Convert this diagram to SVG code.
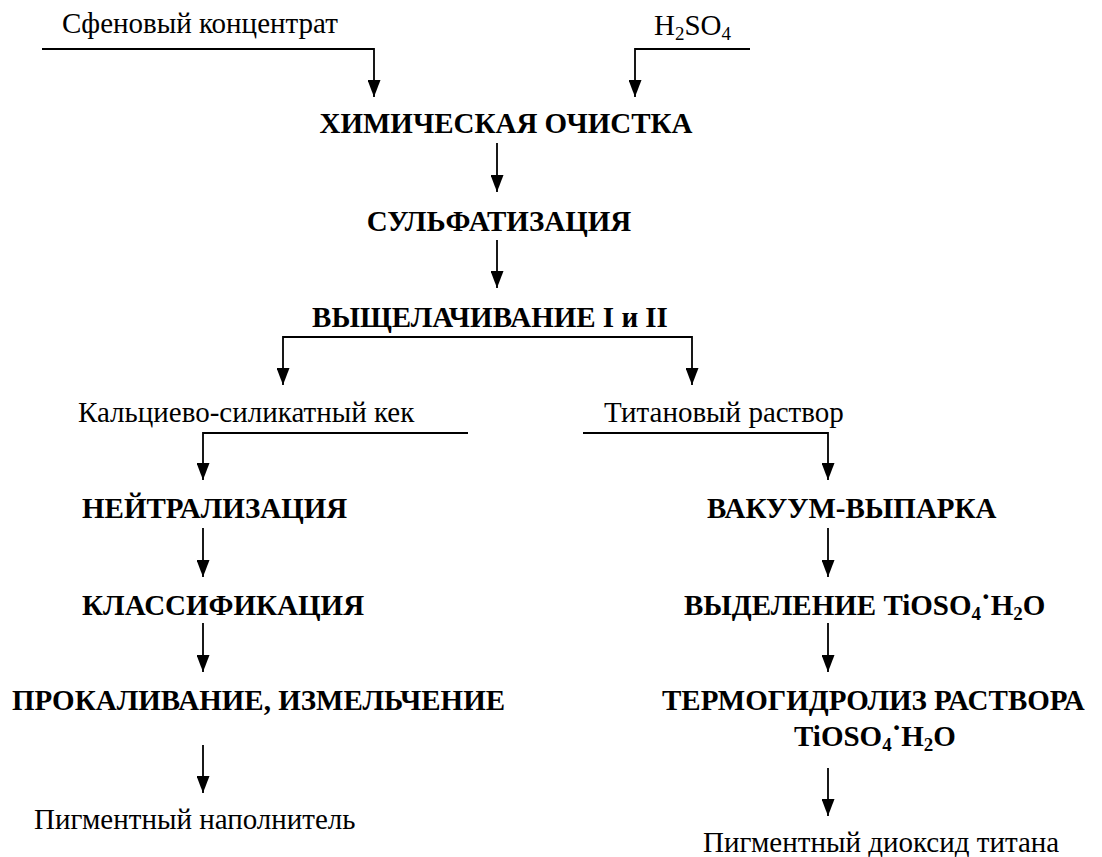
<svg xmlns="http://www.w3.org/2000/svg" width="1102" height="857" viewBox="0 0 1102 857">
<style>
.t{font-family:"Liberation Serif","Times New Roman",serif;font-size:29px;fill:#000}
.b{font-family:"Liberation Serif","Times New Roman",serif;font-size:29px;font-weight:bold;fill:#000}
.c{fill:none;stroke:#000;stroke-width:1.8}
.s{font-size:19px}
</style>
<defs>
<marker id="ah" viewBox="0 0 17 13" refX="17" refY="6.5" markerWidth="17" markerHeight="13" markerUnits="userSpaceOnUse" orient="auto">
<path d="M0,0 L17,6.5 L0,13 z" fill="#000"/>
</marker>
</defs>
<rect width="1102" height="857" fill="#fff"/>
<g id="connectors">
<path class="c" d="M42,49 H374 V97" marker-end="url(#ah)"/>
<path class="c" d="M750,49 H635 V97" marker-end="url(#ah)"/>
<path class="c" d="M497,143 V192" marker-end="url(#ah)"/>
<path class="c" d="M497,240 V288" marker-end="url(#ah)"/>
<path class="c" d="M490,337 H283 V385" marker-end="url(#ah)"/>
<path class="c" d="M490,337 H692 V385" marker-end="url(#ah)"/>
<path class="c" d="M468,433 H203 V480" marker-end="url(#ah)"/>
<path class="c" d="M583,433 H828 V480" marker-end="url(#ah)"/>
<path class="c" d="M203,528 V577" marker-end="url(#ah)"/>
<path class="c" d="M203,623 V672" marker-end="url(#ah)"/>
<path class="c" d="M203,745 V793" marker-end="url(#ah)"/>
<path class="c" d="M828,528 V577" marker-end="url(#ah)"/>
<path class="c" d="M828,623 V672" marker-end="url(#ah)"/>
<path class="c" d="M828,768 V816" marker-end="url(#ah)"/>
</g>
<g id="in-sphene"><text class="t" x="62" y="33">Сфеновый концентрат</text></g>
<g id="in-acid"><text class="t" x="654" y="35">H<tspan class="s" dy="5">2</tspan><tspan dy="-5">SO</tspan><tspan class="s" dy="5">4</tspan></text></g>
<g id="n-chem"><text class="b" x="506" y="133" text-anchor="middle">ХИМИЧЕСКАЯ ОЧИСТКА</text></g>
<g id="n-sulf"><text class="b" x="499" y="231" text-anchor="middle">СУЛЬФАТИЗАЦИЯ</text></g>
<g id="n-leach"><text class="b" x="490" y="327" text-anchor="middle">ВЫЩЕЛАЧИВАНИЕ I и II</text></g>
<g id="p-cake"><text class="t" x="78" y="422">Кальциево-силикатный кек</text></g>
<g id="p-tisol"><text class="t" x="604" y="422">Титановый раствор</text></g>
<g id="n-neut"><text class="b" x="82" y="518">НЕЙТРАЛИЗАЦИЯ</text></g>
<g id="n-class"><text class="b" x="82" y="615">КЛАССИФИКАЦИЯ</text></g>
<g id="n-calc"><text class="b" x="12" y="710">ПРОКАЛИВАНИЕ, ИЗМЕЛЬЧЕНИЕ</text></g>
<g id="p-filler"><text class="t" x="34" y="829">Пигментный наполнитель</text></g>
<g id="n-vac"><text class="b" x="707" y="518">ВАКУУМ-ВЫПАРКА</text></g>
<g id="n-sep"><text class="b" x="684" y="615">ВЫДЕЛЕНИЕ TiOSO<tspan class="s" dy="5">4</tspan><tspan dy="-14">·</tspan><tspan dy="9">H</tspan><tspan class="s" dy="5">2</tspan><tspan dy="-5">O</tspan></text></g>
<g id="n-hydro"><text class="b"><tspan x="662" y="710">ТЕРМОГИДРОЛИЗ РАСТВОРА</tspan><tspan x="794" y="746">TiOSO</tspan><tspan class="s" dy="5">4</tspan><tspan dy="-14">·</tspan><tspan dy="9">H</tspan><tspan class="s" dy="5">2</tspan><tspan dy="-5">O</tspan></text></g>
<g id="p-tio2"><text class="t" x="703" y="852">Пигментный диоксид титана</text></g>
</svg>
